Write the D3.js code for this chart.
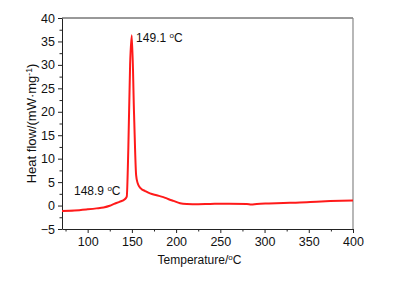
<!DOCTYPE html>
<html>
<head>
<meta charset="utf-8">
<script src="https://cdn.jsdelivr.net/npm/d3@7"></script>
<style>
  body { margin: 0; background: #fff; }
  text { font-family: Arial, "Liberation Sans", sans-serif; fill: #111; }
</style>
</head>
<body>
<svg id="chart" width="402" height="281"></svg>
<script>
// DSC curve
const temps = [71, 85, 100, 110, 118, 125, 130, 136, 142, 144.2, 146, 148, 149.9, 152.5, 154.8, 156.5, 158.5, 161, 165, 170.5, 178, 185.6, 191, 196.9, 204.5, 212, 225, 238.4, 260, 280, 285, 291.3, 305, 321.4, 340, 351.6, 374.3, 400];
const heatFlow = [-1.15, -1.05, -0.8, -0.6, -0.4, -0.05, 0.35, 0.8, 1.35, 1.9, 12.3, 30, 36.3, 19.3, 6.5, 4.8, 4.0, 3.5, 3.1, 2.6, 2.2, 1.8, 1.4, 1.0, 0.5, 0.35, 0.3, 0.35, 0.38, 0.35, 0.2, 0.35, 0.45, 0.55, 0.65, 0.75, 0.95, 1.1];
const xTicks = [100, 150, 200, 250, 300, 350, 400];
const yTicks = [-5, 0, 5, 10, 15, 20, 25, 30, 35, 40];
const peakLabels = [
  { text: "149.1 ", at: [154.8, 34.9] },
  { text: "148.9 ", at: [84.6, 2.25] }
];

const margin = { top: 18, right: 49, bottom: 52, left: 62 },
  width = 402 - margin.left - margin.right,
  height = 281 - margin.top - margin.bottom;

const svg = d3.select("#chart")
  .append("g")
  .attr("transform", `translate(${margin.left},${margin.top})`);

const x = d3.scaleLinear().domain([71, 400]).range([0, width]);
const y = d3.scaleLinear().domain([-5, 40]).range([height, 0]);

// frame: top and right lines
svg.append("line").attr("x1", 0).attr("x2", width).attr("y1", 0).attr("y2", 0)
  .attr("stroke", "#333").attr("stroke-width", 1);
svg.append("line").attr("x1", width).attr("x2", width).attr("y1", 0).attr("y2", height)
  .attr("stroke", "#888").attr("stroke-width", 1.2);

// minor ticks
const xMinor = d3.range(75, 401, 25).filter(d => !xTicks.includes(d));
const yMinor = d3.range(-2.5, 40, 5);

const xAxis = svg.append("g")
  .attr("transform", `translate(0,${height})`)
  .call(d3.axisBottom(x).tickValues(xTicks).tickSize(4).tickSizeOuter(0).tickPadding(4));
svg.append("g")
  .attr("transform", `translate(0,${height})`)
  .call(d3.axisBottom(x).tickValues(xMinor).tickSize(2.5).tickSizeOuter(0).tickFormat(""))
  .select(".domain").remove();

const yAxis = svg.append("g")
  .call(d3.axisLeft(y).tickValues(yTicks).tickSize(4).tickSizeOuter(0).tickPadding(3));
svg.append("g")
  .call(d3.axisLeft(y).tickValues(yMinor).tickSize(2.5).tickSizeOuter(0).tickFormat(""))
  .select(".domain").remove();

svg.selectAll(".tick line, .domain").attr("stroke", "#222");
xAxis.selectAll("text").style("font-size", "12.5px").attr("fill", "#111");
yAxis.selectAll("text").style("font-size", "12.5px").attr("fill", "#111");

// curve
const line = d3.line()
  .x((d, i) => x(temps[i]))
  .y(d => y(d))
  .curve(d3.curveMonotoneX);

svg.append("path")
  .datum(heatFlow)
  .attr("fill", "none")
  .attr("stroke", "#ff1a1a")
  .attr("stroke-width", 2)
  .attr("stroke-linejoin", "round")
  .attr("d", line);

// peak labels
peakLabels.forEach(p => {
  const t = svg.append("text")
    .attr("x", x(p.at[0]))
    .attr("y", y(p.at[1]))
    .style("font-size", "12px");
  t.append("tspan").text(p.text);
  t.append("tspan").attr("dy", -4).style("font-size", "8px").text("o");
  t.append("tspan").attr("dy", 4).text("C");
});

// axis titles
const xt = svg.append("text")
  .attr("x", width / 2 - 8)
  .attr("y", height + 35)
  .attr("text-anchor", "middle")
  .style("font-size", "12px");
xt.append("tspan").text("Temperature/");
xt.append("tspan").attr("dy", -4).style("font-size", "8px").text("o");
xt.append("tspan").attr("dy", 4).text("C");

const yt = svg.append("text")
  .attr("transform", `translate(-26,${height / 2}) rotate(-90)`)
  .attr("text-anchor", "middle")
  .style("font-size", "13px");
yt.append("tspan").text("Heat flow/(mW·mg");
yt.append("tspan").attr("dy", -4).style("font-size", "8.5px").text("-1");
yt.append("tspan").attr("dy", 4).text(")");
</script>
</body>
</html>
